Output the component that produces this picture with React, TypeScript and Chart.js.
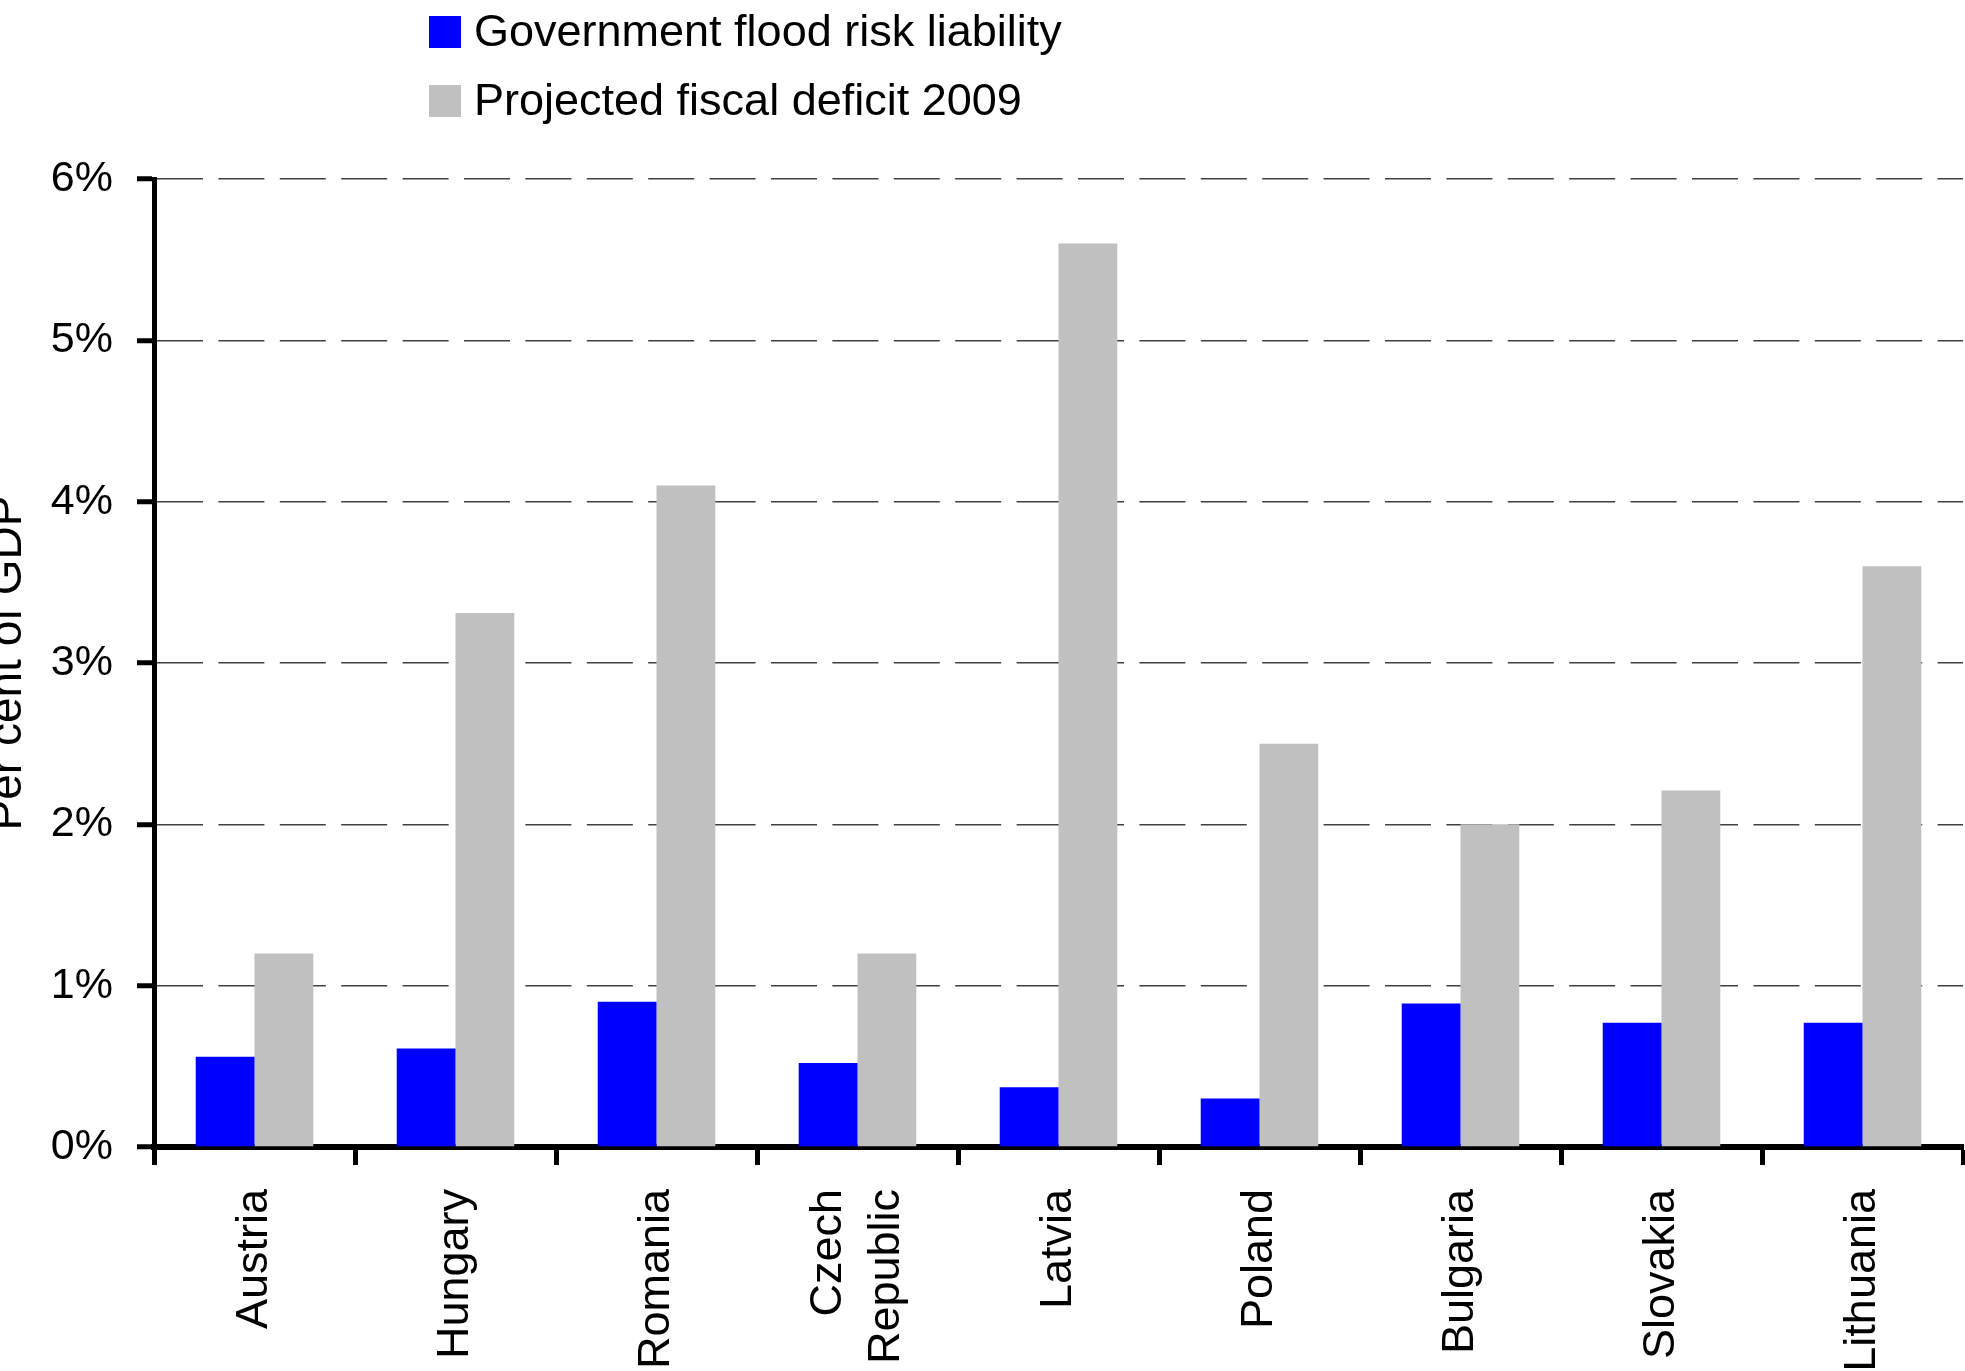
import React, { useEffect, useRef } from "react";
import { Chart, registerables } from "chart.js";

Chart.register(...registerables);

// ---- Data ----
const categories: (string | string[])[] = [
  "Austria",
  "Hungary",
  "Romania",
  ["Czech", "Republic"],
  "Latvia",
  "Poland",
  "Bulgaria",
  "Slovakia",
  "Lithuania",
];
const floodRiskLiability = [0.56, 0.61, 0.9, 0.52, 0.37, 0.3, 0.89, 0.77, 0.77];
const fiscalDeficit2009 = [1.2, 3.31, 4.1, 1.2, 5.6, 2.5, 2.0, 2.21, 3.6];
const seriesLabels = ["Government flood risk liability", "Projected fiscal deficit 2009"];
const seriesColors = ["#0000FF", "#C0C0C0"];
const yTickLabels = ["0%", "1%", "2%", "3%", "4%", "5%", "6%"];
const yAxisTitle = "Per cent of GDP";

// ---- Layout constants ----
const OFFSET = 40; // canvas shifted left so the axis title is clipped like the reference
const FONT = '"Liberation Sans", Arial, Helvetica, sans-serif';
const X_LINE_HEIGHT = 1.29;
const X_FONT_SIZE = 45;

const stackedLegend = {
  id: "stackedLegend",
  afterDraw(chart: any) {
    const ctx = chart.ctx;
    ctx.save();
    ctx.font = `45px ${FONT}`;
    ctx.textBaseline = "alphabetic";
    ctx.textAlign = "left";
    chart.data.datasets.forEach((ds: any, i: number) => {
      const baseY = 46 + i * 69;
      ctx.fillStyle = ds.backgroundColor;
      ctx.fillRect(OFFSET + 429, baseY - 30, 32, 32);
      ctx.fillStyle = "#000";
      ctx.fillText(ds.label, OFFSET + 474, baseY);
    });
    ctx.restore();
  },
};

const centerMultiline = {
  id: "centerMultiline",
  beforeDraw(chart: any) {
    const scale = chart.scales.x;
    const items = scale.getLabelItems();
    if (items._centered) return;
    const lh = X_FONT_SIZE * X_LINE_HEIGHT;
    items.forEach((it: any) => {
      if (Array.isArray(it.label) && it.label.length > 1) {
        it.options.translation[0] -= ((it.label.length - 1) * lh) / 2;
      }
    });
    items._centered = true;
  },
};

export default function App() {
  const ref = useRef<HTMLCanvasElement>(null);

  useEffect(() => {
    if (!ref.current) return;
    const chart = new Chart(ref.current, {
      type: "bar",
      data: {
        labels: categories as any,
        datasets: [
          {
            label: seriesLabels[0],
            data: floodRiskLiability,
            backgroundColor: seriesColors[0],
            borderWidth: 0,
            categoryPercentage: 0.585,
            barPercentage: 1.0,
          },
          {
            label: seriesLabels[1],
            data: fiscalDeficit2009,
            backgroundColor: seriesColors[1],
            borderWidth: 0,
            categoryPercentage: 0.585,
            barPercentage: 1.0,
          },
        ],
      },
      options: {
        responsive: false,
        animation: false,
        devicePixelRatio: 1,
        layout: { padding: { top: 179, left: 0, right: 2, bottom: 0 } },
        plugins: {
          legend: { display: false },
          tooltip: { enabled: false },
          title: { display: false },
        },
        scales: {
          x: {
            z: 1,
            offset: true,
            grid: {
              offset: true,
              drawOnChartArea: false,
              drawTicks: true,
              tickLength: 18,
              tickWidth: 5,
              tickColor: "#000",
              color: "#000",
            },
            border: { display: true, width: 6, color: "#000" },
            ticks: {
              autoSkip: false,
              minRotation: 90,
              maxRotation: 90,
              padding: 24,
              color: "#000",
              font: { family: FONT, size: X_FONT_SIZE, lineHeight: X_LINE_HEIGHT },
            },
            afterFit(scale: any) {
              scale.height = 224;
            },
          },
          y: {
            min: 0,
            max: 6,
            ticks: {
              stepSize: 1,
              padding: 24,
              color: "#000",
              font: { family: FONT, size: 43 },
              callback: (_v: any, index: number) => yTickLabels[index],
            },
            grid: {
              drawOnChartArea: true,
              drawTicks: true,
              tickLength: 17,
              tickWidth: 5,
              tickColor: "#000",
              color: "#404040",
              lineWidth: 1.5,
              tickBorderDash: [],
            },
            border: { display: true, width: 5, color: "#000", dash: [46, 15.4] },
            title: {
              display: true,
              text: yAxisTitle,
              color: "#000",
              font: { family: FONT, size: 46, lineHeight: 1.2 },
              padding: { top: 20.4, bottom: 0 },
            },
            afterFit(scale: any) {
              scale.width = 154 + OFFSET;
            },
          },
        },
      },
      plugins: [stackedLegend, centerMultiline],
    });
    return () => chart.destroy();
  }, []);

  return (
    <div
      style={{
        position: "fixed",
        left: 0,
        top: 0,
        width: 1965,
        height: 1371,
        overflow: "hidden",
        background: "#fff",
      }}
    >
      <canvas
        ref={ref}
        width={1965 + OFFSET}
        height={1371}
        style={{ position: "absolute", left: -OFFSET, top: 0, width: 1965 + OFFSET, height: 1371 }}
      />
    </div>
  );
}
